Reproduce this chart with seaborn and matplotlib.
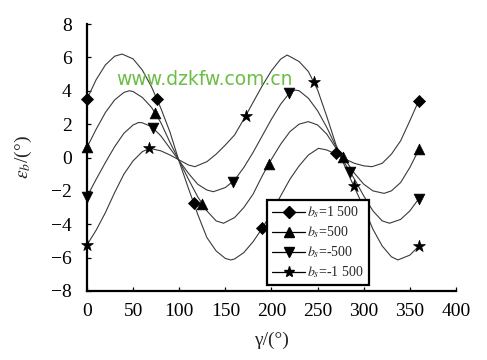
import numpy as np
import pandas as pd
import matplotlib
matplotlib.use("Agg")
import matplotlib.pyplot as plt
from matplotlib.lines import Line2D
import seaborn as sns

# curve values (gamma in degrees, eps_b in degrees)
ang_d = [0, 10, 20, 30, 38, 50, 60, 70, 80, 90, 100, 110, 120, 130, 140, 150, 156, 160, 170, 180,
         190, 200, 210, 220, 230, 240, 251, 260, 270, 280, 290, 300, 309, 320, 330, 340, 350, 360]
eps_d = [3.5, 4.67, 5.55, 6.07, 6.2, 5.91, 5.24, 4.23, 2.96, 1.52, -0.25, -1.85, -3.4, -4.8, -5.6, -6.05, -6.14, -6.08, -5.7, -5.05,
         -4.24, -3.3, -2.3, -1.3, -0.5, 0.15, 0.55, 0.45, 0.2, -0.1, -0.35, -0.5, -0.55, -0.35, 0.2, 1.0, 2.2, 3.45]

ang_u = [0, 10, 20, 30, 40, 46, 50, 60, 70, 80, 90, 100, 110, 120, 130, 140, 148, 160, 170, 180,
         190, 200, 210, 220, 230, 240, 250, 260, 270, 280, 290, 300, 310, 322, 330, 340, 350, 360]
eps_u = [0.6, 1.7, 2.7, 3.45, 3.9, 4.0, 3.95, 3.6, 3.0, 2.1, 0.9, -0.2, -1.3, -2.35, -3.2, -3.8, -3.94, -3.6, -3.0, -2.2,
         -1.1, -0.1, 0.8, 1.55, 2.0, 2.15, 1.95, 1.4, 0.55, -0.15, -0.95, -1.6, -2.0, -2.15, -2.0, -1.5, -0.6, 0.5]

ang_v = [0, 10, 20, 30, 40, 50, 56, 60, 70, 80, 90, 100, 110, 120, 130, 137, 150, 160, 170, 180,
         190, 200, 210, 220, 226, 230, 240, 250, 260, 270, 280, 290, 300, 310, 320, 328, 340, 350, 360]
eps_v = [-2.35, -1.3, -0.3, 0.65, 1.45, 1.95, 2.1, 2.08, 1.85, 1.3, 0.55, -0.2, -0.95, -1.6, -1.95, -2.05, -1.8, -1.35, -0.6, 0.3,
         1.3, 2.3, 3.2, 3.9, 4.04, 4.0, 3.55, 2.8, 1.8, 0.65, -0.4, -1.3, -2.3, -3.2, -3.8, -3.94, -3.71, -3.2, -2.45]

ang_s = [0, 10, 20, 30, 40, 50, 60, 68, 80, 90, 100, 110, 117, 130, 140, 150, 160, 170, 180,
         190, 200, 210, 217, 230, 240, 250, 260, 270, 280, 290, 300, 310, 320, 330, 337, 350, 360]
eps_s = [-5.24, -4.35, -3.3, -2.1, -1.0, -0.2, 0.35, 0.55, 0.4, 0.15, -0.15, -0.45, -0.55, -0.25, 0.2, 0.75, 1.35, 2.3, 3.3,
         4.3, 5.2, 5.9, 6.14, 5.75, 5.15, 4.05, 2.45, 0.75, -0.6, -1.8, -3.0, -4.3, -5.3, -5.95, -6.14, -5.85, -5.3]

# marked points
mk_ang_d = [0, 76, 116, 190, 270, 360]
mk_eps_d = [3.5, 3.49, -2.75, -4.24, 0.25, 3.39]
mk_ang_u = [0, 74, 125, 197, 278, 360]
mk_eps_u = [0.61, 2.68, -2.77, -0.41, 0.01, 0.49]
mk_ang_v = [0, 72, 158, 219, 285, 360]
mk_eps_v = [-2.35, 1.75, -1.45, 3.85, -0.85, -2.5]
mk_ang_s = [0, 67, 172, 246, 289, 360]
mk_eps_s = [-5.24, 0.55, 2.49, 4.54, -1.71, -5.3]

labels = [r"$b_s$=1 500", r"$b_s$=500", r"$b_s$=-500", r"$b_s$=-1 500"]
markers = ["D", "^", "v", "*"]

sns.set_theme(style="ticks")
plt.rcParams["font.family"] = ["Liberation Serif", "DejaVu Sans"]
plt.rcParams["mathtext.fontset"] = "stix"

fig = plt.figure(figsize=(4.87, 3.6), dpi=100)
ax = fig.add_axes([0.1786, 0.1917, 0.7577, 0.7416])

curves = [(ang_d, eps_d), (ang_u, eps_u), (ang_v, eps_v), (ang_s, eps_s)]
points = [(mk_ang_d, mk_eps_d), (mk_ang_u, mk_eps_u), (mk_ang_v, mk_eps_v), (mk_ang_s, mk_eps_s)]
sizes = [38, 60, 60, 80]

for (xs, ys) in curves:
    sns.lineplot(x=xs, y=ys, color="#3a3a3a", linewidth=0.8, estimator=None, ax=ax)
for (xs, ys), m, s in zip(points, markers, sizes):
    sns.scatterplot(x=xs, y=ys, marker=m, s=s, color="black", edgecolor="black",
                    linewidth=0.5, ax=ax, clip_on=False, zorder=4)

ax.set_xlim(0, 400)
ax.set_ylim(-8, 8)
ax.set_xticks(range(0, 401, 50))
ax.set_yticks(range(-8, 9, 2))
sns.despine(ax=ax)
for sp in ["left", "bottom"]:
    ax.spines[sp].set_linewidth(1.6)
    ax.spines[sp].set_color("black")
ax.tick_params(direction="in", length=3, width=0.9, labelsize=14, colors="black")
ax.tick_params(axis="y", pad=11)
ax.tick_params(axis="x", pad=9)
ax.set_xlabel("γ/(°)", fontsize=14, labelpad=8)
ax.set_ylabel(r"$\varepsilon_b$/(°)", fontsize=14, labelpad=12)

handles = [Line2D([], [], color="black", lw=0.9, marker=m, markersize=ms)
           for m, ms in zip(markers, [6, 7, 7, 8])]
leg = ax.legend(handles, labels, loc="lower left", bbox_to_anchor=(0.488, 0.022),
                borderaxespad=0, fontsize=10, frameon=True, fancybox=False,
                handlelength=2.4, handletextpad=0.15, labelspacing=0.3,
                borderpad=0.35)
leg.get_frame().set_edgecolor("black")
leg.get_frame().set_linewidth(1.6)
leg.get_frame().set_alpha(1)

fig.text(0.42, 0.778, "www.dzkfw.com.cn", color="#6cbd45", fontsize=13.5,
         family="DejaVu Sans", ha="center", va="center")

fig.savefig("out.png", dpi=100)
